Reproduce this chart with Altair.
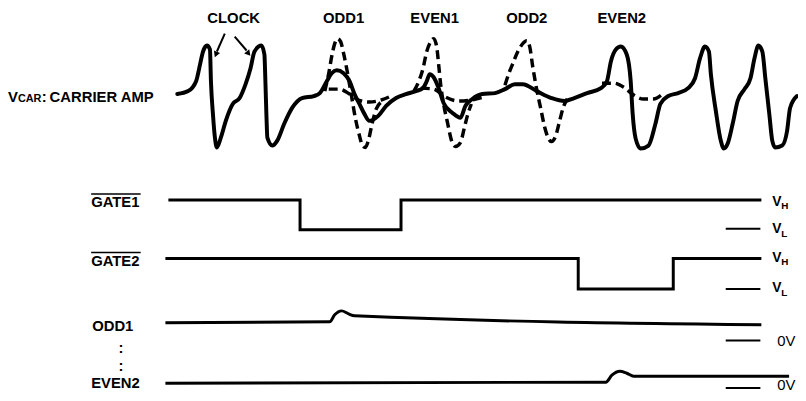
import altair as alt
import pandas as pd

# ---------------- data ----------------
# solid carrier amplitude waveform (time, level) in picture units
solid_x = [179,190,198,202,205,209,212,213,215,217,219,223,228,235,242,248,253,257,264,267,268,269,270,275,280,287,295,305,317,323,
           330,335,340,347,353,358,363,368,373,382,390,400,410,420,427,431,434,438,443,448,457,465,470,477,487,500,510,520,528,
           542,557,570,580,593,607,613,617,622,627,633,637,639,642,647,655,662,667,675,685,695,702,707,712,716,718,723,728,
           731,735,740,745,752,758,762,766,770,773,777,780,783,790,795,798,805]
solid_y = [93,90,80,63,50,44,48,80,113,137,147,137,120,103,97,83,67,50,44,53,80,113,137,145,140,123,107,97,95,92,
           80,72,69,72,80,93,103,113,120,115,105,97,93,90,87,80,73,76,87,102,112,117,105,98,93,92,88,83,83,
           90,97,100,97,92,87,80,60,48,45,53,80,113,138,148,145,123,103,95,92,87,77,57,45,50,73,110,140,
           148,143,123,100,88,77,57,44,50,77,113,140,147,145,130,107,95]

# dashed pulses (ODD1, EVEN1, ODD2)
pulse_id = ["ODD1"] * 17 + ["EVEN1"] * 17 + ["ODD2"] * 17
pulse_x = [328,332,335,338,341,344,347,351,355,359,363,366,369,372,376,380,385,
           418,423,427,431,435,438,441,443,445,448,452,456,460,465,469,472,476,
           510,514,518,523,529,532,535,538,542,546,550,554,557,561,565,569,573]
pulse_y = [90,72,55,42,37,40,52,72,95,118,135,145,147,140,122,108,101,
           90,80,68,50,40,37,45,63,83,103,122,140,146,142,127,115,103,
           84,72,62,50,41,39,45,65,88,107,126,138,141,136,121,106,98]

# dashed base segments
base_id = ["B1"] * 7 + ["B2"] * 6 + ["B3"] * 7
base_x = [332,343,353,362,373,385,397, 425,438,450,463,476,488, 608,620,630,640,650,660,668]
base_y = [88,88,93,99,101,99,94, 87,88,96,100,99,96, 82,82,86,94,98,98,94]

# gate signals (step after)
gate1_x = [170, 303, 405, 769]
gate1_y = [200, 230, 200, 200]
gate2_x = [167, 584, 680, 769]
gate2_y = [259, 290, 259, 259]

# sample/hold outputs
odd1_x = [167, 333, 338, 345, 352, 358, 769]
odd1_y = [324, 323, 316, 312, 315, 317, 326]
even2_x = [167, 612, 618, 626, 633, 640, 797]
even2_y = [385, 384, 377, 373, 375, 378, 378]

# level ticks on the right
tick_x1 = [733, 733, 733, 733]
tick_x2 = [768, 768, 768, 768]
tick_y = [229, 290, 342, 390]

# overlines of GATE labels
over_x1 = [92, 92]
over_x2 = [142, 142]
over_y = [194, 253]

# clock arrows (tail -> tip)
arr_x1 = [227, 237]
arr_y1 = [32, 35]
arr_x2 = [219, 249]
arr_y2 = [50, 49]
head_x = [218, 251]
head_y = [53, 52]
head_angle = [202, 140]

# bold labels
bl_text = ["CLOCK", "ODD1", "EVEN1", "ODD2", "EVEN2",
           "V", "CAR", ":", "CARRIER AMP",
           "GATE1", "GATE2", "ODD1", ":", ":", "EVEN2",
           "V", "H", "V", "L", "V", "H", "V", "L"]
bl_x = [236, 347, 439, 532, 628,
        8, 18, 42, 50,
        92, 92, 93, 122, 122, 92,
        780, 789, 780, 789, 780, 789, 780, 789]
bl_y = [21, 21, 21, 21, 21,
        101, 101, 101, 101,
        207, 267, 332, 355, 373, 390,
        206, 209, 233, 237, 263, 266, 293, 297]
bl_size = [15, 15, 15, 15, 15,
           15, 11, 15, 15,
           15, 15, 15, 15, 15, 15,
           14, 10, 14, 10, 14, 10, 14, 10]
bl_align = ["center"] * 5 + ["left"] * 4 + ["left", "left", "left", "center", "center", "left"] + ["left"] * 8

# regular labels
rl_text = ["0V", "0V"]
rl_x = [785, 785]
rl_y = [347, 392]

# ---------------- chart ----------------
W, H = 798, 385
xsc = alt.Scale(domain=[8, 806], nice=False, zero=False)
ysc = alt.Scale(domain=[8, 393], nice=False, zero=False, reverse=True)

def X(f="x"):
    return alt.X(f"{f}:Q", scale=xsc, axis=None)

def Y(f="y"):
    return alt.Y(f"{f}:Q", scale=ysc, axis=None)

solid = alt.Chart(pd.DataFrame({"x": solid_x, "y": solid_y, "i": range(len(solid_x))})).mark_line(
    color="black", strokeWidth=4, interpolate="monotone", strokeCap="round", strokeJoin="round"
).encode(x=X(), y=Y(), order="i:Q")

pulses = alt.Chart(pd.DataFrame({"x": pulse_x, "y": pulse_y, "g": pulse_id, "i": range(len(pulse_x))})).mark_line(
    color="black", strokeWidth=3.5, interpolate="monotone", strokeDash=[9, 5]
).encode(x=X(), y=Y(), detail="g:N", order="i:Q")

bases = alt.Chart(pd.DataFrame({"x": base_x, "y": base_y, "g": base_id, "i": range(len(base_x))})).mark_line(
    color="black", strokeWidth=3.5, interpolate="monotone", strokeDash=[9, 5]
).encode(x=X(), y=Y(), detail="g:N", order="i:Q")

def step_line(xs, ys):
    return alt.Chart(pd.DataFrame({"x": xs, "y": ys, "i": range(len(xs))})).mark_line(
        color="black", strokeWidth=3, interpolate="step-after"
    ).encode(x=X(), y=Y(), order="i:Q")

g1 = step_line(gate1_x, gate1_y)
g2 = step_line(gate2_x, gate2_y)

def smooth_line(xs, ys):
    return alt.Chart(pd.DataFrame({"x": xs, "y": ys, "i": range(len(xs))})).mark_line(
        color="black", strokeWidth=3, interpolate="monotone"
    ).encode(x=X(), y=Y(), order="i:Q")

o1 = smooth_line(odd1_x, odd1_y)
e2 = smooth_line(even2_x, even2_y)

ticks = alt.Chart(pd.DataFrame({"x": tick_x1, "x2": tick_x2, "y": tick_y})).mark_rule(
    color="black", strokeWidth=2
).encode(x=X(), x2="x2:Q", y=Y())

overs = alt.Chart(pd.DataFrame({"x": over_x1, "x2": over_x2, "y": over_y})).mark_rule(
    color="black", strokeWidth=1.5
).encode(x=X(), x2="x2:Q", y=Y())

shafts = alt.Chart(pd.DataFrame({"x": arr_x1, "y": arr_y1, "x2": arr_x2, "y2": arr_y2})).mark_rule(
    color="black", strokeWidth=2
).encode(x=X(), y=Y(), x2="x2:Q", y2="y2:Q")

heads = alt.Chart(pd.DataFrame({"x": head_x, "y": head_y, "a": head_angle})).mark_point(
    shape="triangle-up", filled=True, color="black", size=45, opacity=1
).encode(x=X(), y=Y(), angle=alt.Angle("a:Q", scale=None))

bdf = pd.DataFrame({"t": bl_text, "x": bl_x, "y": bl_y, "s": bl_size, "al": bl_align})
btext_c = alt.Chart(bdf[bdf.al == "center"]).mark_text(
    font="Liberation Sans", fontWeight="bold", align="center", baseline="alphabetic", color="black"
).encode(x=X(), y=Y(), text="t:N", size=alt.Size("s:Q", scale=None, legend=None))
btext_l = alt.Chart(bdf[bdf.al == "left"]).mark_text(
    font="Liberation Sans", fontWeight="bold", align="left", baseline="alphabetic", color="black"
).encode(x=X(), y=Y(), text="t:N", size=alt.Size("s:Q", scale=None, legend=None))

rtext = alt.Chart(pd.DataFrame({"t": rl_text, "x": rl_x, "y": rl_y})).mark_text(
    font="Liberation Sans", fontSize=15, align="left", baseline="alphabetic", color="black"
).encode(x=X(), y=Y(), text="t:N")

chart = alt.layer(
    bases, pulses, solid, g1, g2, o1, e2, ticks, overs, shafts, heads, btext_c, btext_l, rtext
).properties(
    width=W, height=H, padding=0, autosize=alt.AutoSizeParams(type="none"), background="white"
).configure_view(stroke=None)

chart.save("out.html", embed_options={"renderer": "svg", "actions": False})
